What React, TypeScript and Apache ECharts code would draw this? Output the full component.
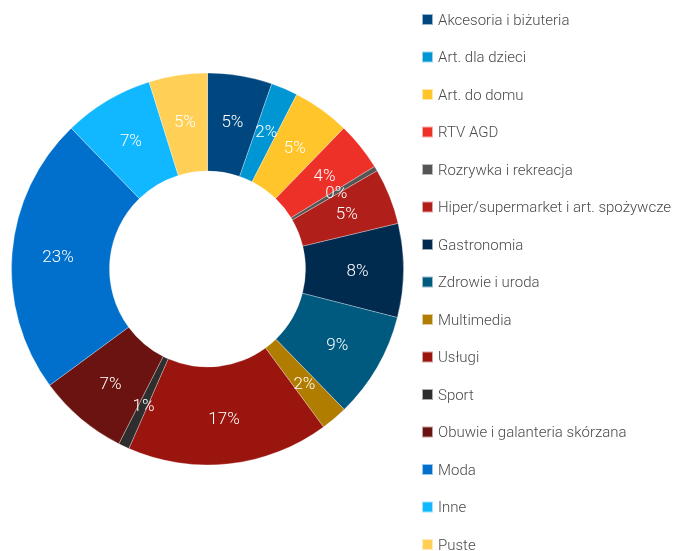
import React, { useEffect, useRef } from "react";
import * as echarts from "echarts";

const categories = [
  "Akcesoria i biżuteria",
  "Art. dla dzieci",
  "Art. do domu",
  "RTV AGD",
  "Rozrywka i rekreacja",
  "Hiper/supermarket i art. spożywcze",
  "Gastronomia",
  "Zdrowie i uroda",
  "Multimedia",
  "Usługi",
  "Sport",
  "Obuwie i galanteria skórzana",
  "Moda",
  "Inne",
  "Puste",
];

const shares = [5.3, 2.2, 4.7, 4.0, 0.4, 4.6, 7.7, 8.7, 2.2, 16.6, 0.9, 7.4, 22.8, 7.4, 4.8];

const colors = [
  "#00477F",
  "#0095D3",
  "#FFC52A",
  "#EE3128",
  "#555555",
  "#B01F1A",
  "#002A4E",
  "#005A80",
  "#B07D00",
  "#9A150E",
  "#2E2E2E",
  "#6A1310",
  "#0070CC",
  "#11B7FF",
  "#FFD055",
];

export default function App() {
  const ref = useRef<HTMLDivElement>(null);
  useEffect(() => {
    if (!ref.current) return;
    const chart = echarts.init(ref.current, null, { renderer: "svg" });
    chart.setOption({
      animation: false,
      color: colors,
      legend: {
        orient: "vertical",
        left: 421,
        top: 12,
        height: 600,
        padding: 0,
        itemWidth: 11,
        itemHeight: 11,
        itemGap: 22.5,
        icon: "rect",
        selectedMode: false,
        textStyle: {
          fontFamily: "Roboto",
          fontWeight: 300,
          fontSize: 15,
          lineHeight: 15,
          color: "#4a4a4a",
        },
        data: categories,
      },
      series: [
        {
          type: "pie",
          center: [207.5, 269],
          radius: [98, 196],
          startAngle: 90,
          clockwise: true,
          percentPrecision: 1,
          itemStyle: { borderColor: "rgba(255,255,255,0.6)", borderWidth: 0.5 },
          label: {
            show: true,
            position: "inside",
            color: "#ffffff",
            fontFamily: "Roboto",
            fontWeight: 300,
            fontSize: 17,
            formatter: (p: any) => Math.round(p.percent) + "%",
          },
          labelLine: { show: false },
          emphasis: { disabled: true },
          data: categories.map((name, i) => ({ name, value: shares[i] })),
        },
      ],
    });
    return () => chart.dispose();
  }, []);
  return (
    <div
      ref={ref}
      style={{ position: "fixed", left: 0, top: 0, width: 678, height: 551 }}
    />
  );
}
